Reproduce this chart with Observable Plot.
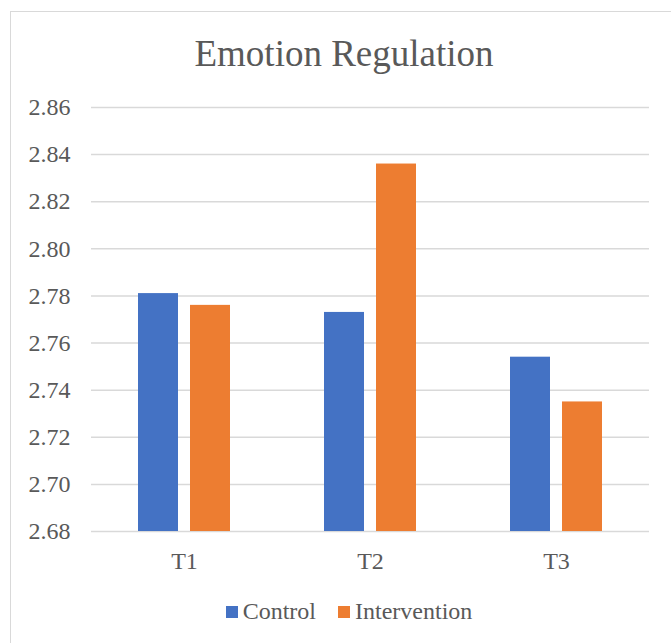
<!DOCTYPE html>
<html>
<head>
<meta charset="utf-8">
<script src="https://cdn.jsdelivr.net/npm/d3@7"></script>
<script src="https://cdn.jsdelivr.net/npm/@observablehq/plot@0.6"></script>
<style>
  html, body { margin: 0; padding: 0; background: #fff; overflow: hidden; }
  #page { position: relative; width: 671px; height: 643px; overflow: hidden; font-family: "Liberation Serif", "Times New Roman", serif; color: #595959; }
  #frame { position: absolute; left: 10px; top: 11px; width: 720px; height: 720px; border: 1px solid #d9d9d9; box-sizing: border-box; }
  #title { position: absolute; left: 10px; width: 668px; top: 35px; text-align: center; font-size: 37px; line-height: 37px; }
  #chart { position: absolute; left: 0; top: 90px; }
  #legend { position: absolute; left: 10px; width: 678px; top: 599px; display: flex; justify-content: center; align-items: center; font-size: 24px; line-height: 24px; }
  .item { display: flex; align-items: center; margin: 0 11px; }
  .swatch { width: 12px; height: 12px; margin-right: 5px; margin-top: 2px; }
</style>
</head>
<body>
<div id="page">
  <div id="frame"></div>
  <div id="title">Emotion Regulation</div>
  <div id="chart"></div>
  <div id="legend"></div>
</div>
<script>
// Mean emotion regulation scores by time point and group
const periods = ["T1", "T2", "T3"];
const groups = ["Control", "Intervention"];
const control = [2.781, 2.773, 2.754];
const intervention = [2.776, 2.836, 2.735];
const yTicks = [2.68, 2.70, 2.72, 2.74, 2.76, 2.78, 2.80, 2.82, 2.84, 2.86];
const colors = ["#4472C4", "#ED7D31"];

const rows = periods.flatMap((p, i) => [
  {period: p, group: groups[0], value: control[i]},
  {period: p, group: groups[1], value: intervention[i]}
]);

const chart = Plot.plot({
  width: 671,
  height: 490,
  marginLeft: 91,
  marginRight: 22,
  marginTop: 17,
  marginBottom: 49,
  style: {fontFamily: "Liberation Serif, Times New Roman, serif", fontSize: "24px", color: "#595959", background: "transparent"},
  fx: {domain: periods, paddingInner: 0, paddingOuter: 0, label: null, axis: "bottom", tickSize: 0, tickPadding: 20},
  x: {domain: groups, paddingInner: 0.226, paddingOuter: 0.868, axis: null},
  y: {domain: [2.68, 2.86], ticks: yTicks, tickFormat: d => d.toFixed(2), label: null, tickSize: 0, tickPadding: 21},
  color: {domain: groups, range: colors},
  marks: [
    Plot.ruleY(yTicks, {stroke: "#d9d9d9", strokeWidth: 1.5}),
    Plot.barY(rows, {fx: "period", x: "group", y1: 2.68, y2: "value", fill: "group"})
  ]
});
document.getElementById("chart").appendChild(chart);

// Legend below the chart
const legend = document.getElementById("legend");
groups.forEach((g, i) => {
  const item = document.createElement("div");
  item.className = "item";
  const sw = document.createElement("span");
  sw.className = "swatch";
  sw.style.background = colors[i];
  const label = document.createElement("span");
  label.textContent = g;
  item.appendChild(sw);
  item.appendChild(label);
  legend.appendChild(item);
});
</script>
</body>
</html>
